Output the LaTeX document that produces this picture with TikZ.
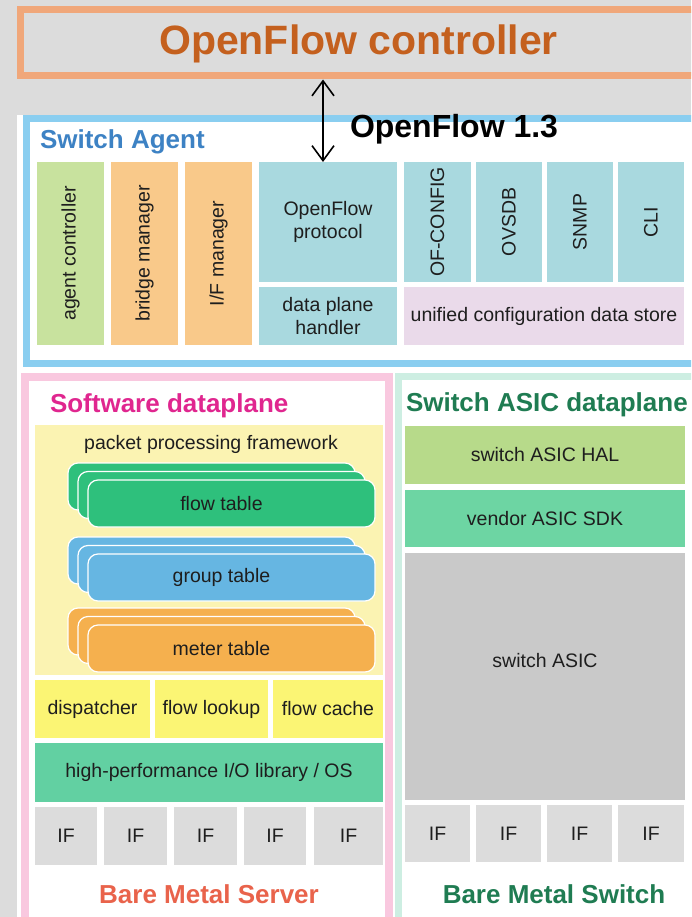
\documentclass[tikz,border=0pt]{standalone}
\usepackage{fontspec}
\usepackage{graphicx}
\setmainfont{Liberation Sans}
\usetikzlibrary{arrows.meta}

% palette
\definecolor{bgGray}{HTML}{DCDCDC}
\definecolor{ctrlBorder}{HTML}{F0A77A}
\definecolor{ctrlText}{HTML}{C4601E}
\definecolor{agentBorder}{HTML}{8ACEF0}
\definecolor{agentText}{HTML}{3D82C4}
\definecolor{agentGreen}{HTML}{C8E29E}
\definecolor{mgrOrange}{HTML}{F9C98A}
\definecolor{protoTeal}{HTML}{A9D9DF}
\definecolor{storeLilac}{HTML}{EADAEA}
\definecolor{swBorder}{HTML}{F9C8DF}
\definecolor{swText}{HTML}{E0268F}
\definecolor{ppfYellow}{HTML}{FBF3B2}
\definecolor{flowGreen}{HTML}{2EC07C}
\definecolor{groupBlue}{HTML}{66B6E2}
\definecolor{meterOrange}{HTML}{F5B04E}
\definecolor{rowYellow}{HTML}{FBF574}
\definecolor{ioGreen}{HTML}{62D0A2}
\definecolor{ifGray}{HTML}{DCDCDC}
\definecolor{serverText}{HTML}{E9634B}
\definecolor{asicBorder}{HTML}{CDEEE2}
\definecolor{asicText}{HTML}{1F7C52}
\definecolor{halGreen}{HTML}{B7DA8A}
\definecolor{sdkGreen}{HTML}{6DD5A3}
\definecolor{asicGray}{HTML}{C9C9C9}
\definecolor{labelInk}{HTML}{1E1E1E}

% box from corner (x1,y1) to corner (x2,y2)
\newcommand\blk[7]{%
  \node[#2, minimum width={(#5-#3)*1pt}, minimum height={(#6-#4)*1pt}]
    (#1) at ({(#3+#5)/2},{(#4+#6)/2}) {#7};}

% three stacked rounded tables, label centred on the whole stack
\newcommand\tblstack[5]{%
  \node[tblbox, fill=#2] (#1back) at (#3,#4) {};
  \node[tblbox, fill=#2] (#1mid) at ({#3+10},{#4+8.5}) {};
  \node[tblbox, fill=#2] (#1) at ({#3+20},{#4+17}) {};
  \node[lbl] (#1txt) at ({#3+153.5},{#4+40.5}) {#5};}

\begin{document}
\begin{tikzpicture}[x=1pt,y=-1pt,
  every node/.style={inner sep=0pt, outer sep=0pt},
  lbl/.style={font=\fontsize{19.5}{23}\selectfont, text=labelInk, align=center},
  cell/.style={lbl, rectangle, draw=none},
  frame/.style={rectangle, line width=7pt},
  ttl/.style={font=\fontsize{26}{30}\selectfont\bfseries},
  tblbox/.style={lbl, rectangle, rounded corners=10pt, draw=white, line width=1.2pt,
    anchor=north west, minimum width=287pt, minimum height=47pt},
  arr/.style={{Straight Barb[length=15pt,width=22pt]}-{Straight Barb[length=15pt,width=22pt]}, line width=1.6pt, black}
]
\useasboundingbox (0,0) rectangle (691,917);
\clip (0,0) rectangle (691,917);

% backdrop
\fill[bgGray] (0,0) rectangle (691,917);
\fill[white] (17,115) rectangle (720,940);

% controller
\blk{ctrl}{frame, draw=ctrlBorder, fill=bgGray}{20}{9.5}{697}{76}{}
\node[anchor=base, font=\fontsize{41}{46}\selectfont\bfseries, text=ctrlText] (ctrltxt) at (358.5,55) {OpenFlow controller};

% switch agent frame
\blk{agent}{frame, draw=agentBorder, fill=white}{26.5}{118.5}{730}{363.5}{}
\node[ttl, anchor=base west, text=agentText] (agentttl) at (40,149) {Switch Agent};
\node[anchor=base west, font=\fontsize{32}{36}\selectfont\bfseries] (ofver) at (350,138) {OpenFlow 1.3};

\blk{agentctl}{cell, fill=agentGreen}{37}{162}{104}{345}{\rotatebox{90}{agent controller}}
\blk{bridgemgr}{cell, fill=mgrOrange}{111}{162}{178}{345}{\rotatebox{90}{bridge manager}}
\blk{ifmgr}{cell, fill=mgrOrange}{185}{162}{252}{345}{\rotatebox{90}{I/F manager}}
\blk{ofp}{cell, fill=protoTeal}{259}{162}{397}{282}{OpenFlow\\protocol}
\blk{dph}{cell, fill=protoTeal}{259}{287}{397}{345}{data plane\\handler}
\blk{ofconfig}{cell, fill=protoTeal}{404}{162}{471}{282}{\rotatebox{90}{OF-CONFIG}}
\blk{ovsdb}{cell, fill=protoTeal}{476}{162}{542}{282}{\rotatebox{90}{OVSDB}}
\blk{snmp}{cell, fill=protoTeal}{547}{162}{613}{282}{\rotatebox{90}{SNMP}}
\blk{cli}{cell, fill=protoTeal}{618}{162}{684}{282}{\rotatebox{90}{CLI}}
\blk{ucds}{cell, fill=storeLilac}{404}{287}{684}{345}{unified configuration data store}

% controller <-> agent
\draw[arr] ([xshift=-5pt]ofp.north) -- ([xshift=-5pt,yshift=-3.5pt]ofp.north |- ctrl.south);

% software dataplane
\blk{swdp}{frame, line width=8pt, draw=swBorder, fill=white}{25}{377}{389}{940}{}
\node[ttl, anchor=base west, text=swText] (swttl) at (50,412) {Software dataplane};
\blk{ppf}{cell, fill=ppfYellow}{35}{425}{383}{675}{}
\node[lbl] (ppftxt) at (211,444) {packet processing framework};
\tblstack{flowtbl}{flowGreen}{68}{463}{flow table}
\tblstack{grouptbl}{groupBlue}{68}{537}{group table}
\tblstack{metertbl}{meterOrange}{68}{608}{meter table}

\blk{dispatch}{cell, fill=rowYellow}{35}{680}{150}{738}{dispatcher}
\blk{lookup}{cell, fill=rowYellow}{155}{680}{268}{738}{flow lookup}
\blk{cache}{cell, fill=rowYellow}{273}{680}{383}{738}{flow cache}
\blk{iolib}{cell, fill=ioGreen}{35}{743}{383}{802}{high-performance I/O library / OS}

\blk{sif1}{cell, fill=ifGray}{35}{807}{97}{865}{IF}
\blk{sif2}{cell, fill=ifGray}{104}{807}{167}{865}{IF}
\blk{sif3}{cell, fill=ifGray}{174}{807}{237}{865}{IF}
\blk{sif4}{cell, fill=ifGray}{244}{807}{306}{865}{IF}
\blk{sif5}{cell, fill=ifGray}{314}{807}{383}{865}{IF}
\node[ttl, anchor=base, text=serverText] (server) at (209,903) {Bare Metal Server};

% switch ASIC dataplane
\blk{asicdp}{frame, draw=asicBorder, fill=white}{398.5}{376}{730}{940}{}
\node[ttl, anchor=base west, text=asicText] (asicttl) at (406,411) {Switch ASIC dataplane};
\blk{hal}{cell, fill=halGreen}{405}{426}{685}{484}{switch ASIC HAL}
\blk{sdk}{cell, fill=sdkGreen}{405}{490}{685}{547}{vendor ASIC SDK}
\blk{asic}{cell, fill=asicGray}{405}{553}{685}{800}{}
\node[lbl] (asictxt) at (545,661) {switch ASIC};

\blk{aif1}{cell, fill=ifGray}{405}{805}{470}{862}{IF}
\blk{aif2}{cell, fill=ifGray}{476}{805}{541}{862}{IF}
\blk{aif3}{cell, fill=ifGray}{547}{805}{612}{862}{IF}
\blk{aif4}{cell, fill=ifGray}{618}{805}{684}{862}{IF}
\node[ttl, anchor=base, text=asicText] (switch) at (554,903) {Bare Metal Switch};
\end{tikzpicture}
\end{document}
